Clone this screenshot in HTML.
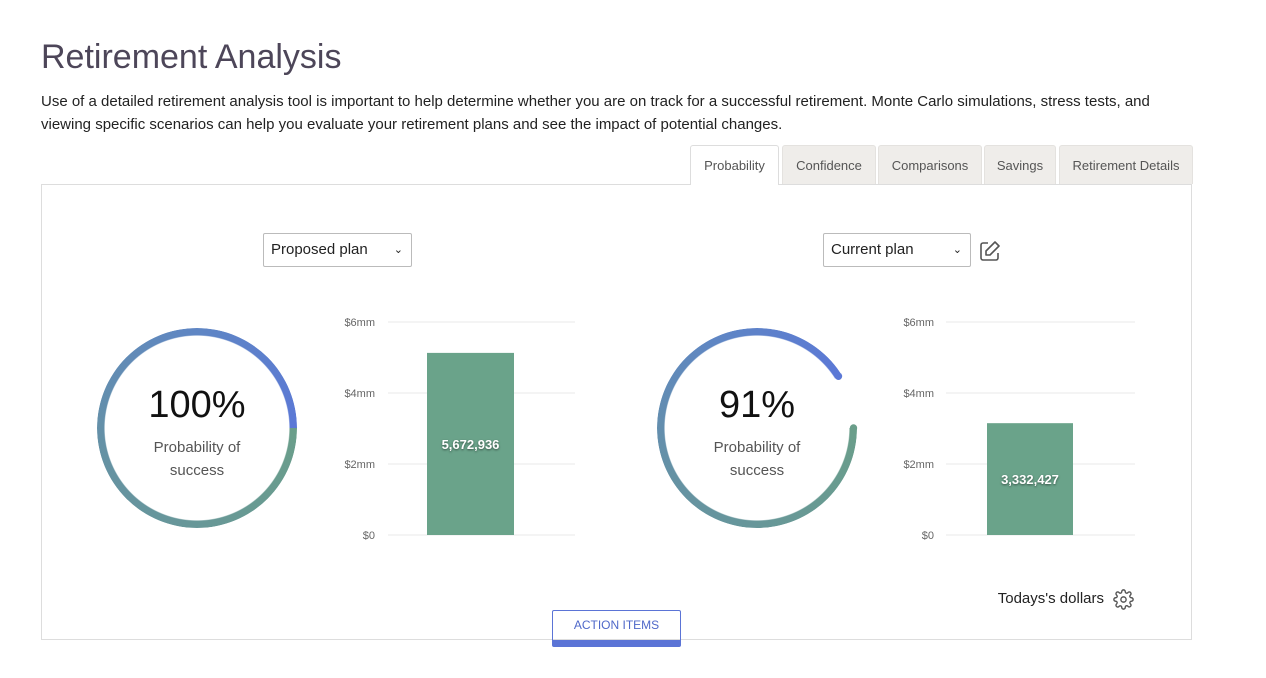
<!DOCTYPE html>
<html><head><meta charset="utf-8"><style>
body{margin:0;width:1266px;height:678px;background:#fff;font-family:"Liberation Sans",sans-serif;position:relative;overflow:hidden;color:#222}
.abs{position:absolute}
h1{position:absolute;left:41px;top:38px;margin:0;font-weight:400;font-size:34px;color:#4d4659}
.desc{left:41px;top:90px;width:1120px;font-size:15px;line-height:23px;color:#222}
.tab{position:absolute;top:145px;height:39px;background:#efedea;border:1px solid #e4e2df;border-bottom:none;border-radius:3px 3px 0 0;box-sizing:border-box;font-size:13px;color:#555;text-align:center;line-height:40px}
.tab.on{background:#fff;border-color:#ddd;height:40px}
.panel{left:41px;top:184px;width:1151px;height:456px;border:1px solid #ddd;box-sizing:border-box}
.sel{position:absolute;height:34px;border:1px solid #bbb;border-radius:2px;box-sizing:border-box;font-size:15px;line-height:32px;padding-left:7px;color:#222}
.sel span{position:absolute;right:8px;top:0;font-size:11px}
.ring{position:absolute;width:200px;height:200px;border-radius:50%;-webkit-mask:radial-gradient(circle,transparent 92px,#000 93px,#000 100px,transparent 101px);mask:radial-gradient(circle,transparent 92px,#000 93px,#000 100px,transparent 101px)}
.pct{position:absolute;width:200px;text-align:center;font-size:38px;color:#111}
.lab{position:absolute;width:200px;text-align:center;font-size:15px;line-height:23px;color:#555}
</style></head><body>
<h1>Retirement Analysis</h1>
<div class="abs desc">Use of a detailed retirement analysis tool is important to help determine whether you are on track for a successful retirement. Monte Carlo simulations, stress tests, and viewing specific scenarios can help you evaluate your retirement plans and see the impact of potential changes.</div>
<div class="abs panel"></div>
<div class="tab on" style="left:690px;width:89px">Probability</div>
<div class="tab" style="left:782px;width:94px">Confidence</div>
<div class="tab" style="left:878px;width:104px">Comparisons</div>
<div class="tab" style="left:984px;width:72px">Savings</div>
<div class="tab" style="left:1059px;width:134px">Retirement Details</div>
<div class="sel" style="left:263px;top:233px;width:149px">Proposed plan<span>&#8964;</span></div>
<div class="sel" style="left:823px;top:233px;width:148px">Current plan<span>&#8964;</span></div>
<svg class="abs" style="left:979px;top:240px" width="22" height="22" viewBox="0 0 22 22"><path d="M9 3H4a2 2 0 0 0-2 2v13a2 2 0 0 0 2 2h13a2 2 0 0 0 2-2v-5" fill="none" stroke="#555" stroke-width="1.6"/><path d="M16 2l4 4-9 9H7v-4z" fill="none" stroke="#555" stroke-width="1.6" stroke-linejoin="round"/></svg>

<div class="ring" id="ring1" style="left:97px;top:328px"></div>
<div class="pct" style="left:97px;top:384px">100%</div>
<div class="lab" style="left:97px;top:436px">Probability of<br>success</div>
<div class="ring" id="ring2" style="left:657px;top:328px"></div>
<div class="pct" style="left:657px;top:384px">91%</div>
<div class="lab" style="left:657px;top:436px">Probability of<br>success</div>

<svg class="abs" id="bars" style="left:0;top:0" width="1266" height="678"></svg>

<div class="abs" style="left:960px;top:590px;width:144px;text-align:right;font-size:15px;color:#222">Todays's dollars</div>
<svg class="abs" style="left:1113px;top:589px" width="21" height="21" viewBox="0 0 24 24"><circle cx="12" cy="12" r="3" fill="none" stroke="#555" stroke-width="1.6"/><path d="M19.4 15a1.7 1.7 0 0 0 .3 1.8l.1.1a2 2 0 1 1-2.8 2.8l-.1-.1a1.7 1.7 0 0 0-2.9 1.2V21a2 2 0 1 1-4 0v-.1a1.7 1.7 0 0 0-2.9-1.200l-.1.1a2 2 0 1 1-2.8-2.8l.1-.1A1.7 1.7 0 0 0 3.1 14H3a2 2 0 1 1 0-4h.1a1.7 1.7 0 0 0 1.2-2.9l-.1-.1a2 2 0 1 1 2.8-2.8l.1.1A1.7 1.7 0 0 0 10 3.1V3a2 2 0 1 1 4 0v.1a1.7 1.7 0 0 0 2.9 1.2l.1-.1a2 2 0 1 1 2.8 2.8l-.1.1A1.7 1.7 0 0 0 20.9 10H21a2 2 0 1 1 0 4h-.1a1.7 1.7 0 0 0-1.5 1z" fill="none" stroke="#555" stroke-width="1.6"/></svg>
<div class="abs" style="left:552px;top:610px;width:129px;height:37px;border:1px solid #5b74d6;border-bottom:7px solid #5b74d6;border-radius:2px;box-sizing:border-box;text-align:center;font-size:12px;line-height:28px;color:#4f68c9">ACTION ITEMS</div>

<script>
const probabilities=[100,91];
const categories=["Proposed plan","Current plan"];
const barValues=[5.13,3.15];
const barLabels=["5,672,936","3,332,427"];
const tickValues=[0,2,4,6];
const tickLabels=["$0","$2mm","$4mm","$6mm"];

const G="#6a9e8a",B="#5b78d6";
const rings=[document.getElementById('ring1'),document.getElementById('ring2')];
probabilities.forEach((p,i)=>{
  const deg=p/100*360;
  rings[i].style.background=`conic-gradient(from 90deg, ${G} 0deg, #6592a3 ${deg*0.45}deg, #5f86c4 ${deg*0.75}deg, ${B} ${deg}deg, transparent ${deg}deg)`;
});
const svg=document.getElementById('bars');
const NS="http://www.w3.org/2000/svg";
function mk(t,a){const e=document.createElementNS(NS,t);for(const k in a)e.setAttribute(k,a[k]);svg.appendChild(e);return e;}
probabilities.forEach((p,i)=>{
  if(p>=100)return;
  const cx=197+560*i,cy=428,r=96.5;
  [[0,G],[p/100*360,B]].forEach(([a,c])=>{
    const rad=(a)*Math.PI/180;
    const e=mk('circle',{cx:cx+r*Math.cos(rad),cy:cy+r*Math.sin(rad),r:3.7,fill:c});
    
    
  });
});
const y0=535,pxPer=213/6;
const y=v=>y0-v*pxPer;
const charts=[{l:388,r:575,bx:427,bw:87,lx:375},{l:946,r:1135,bx:987,bw:86,lx:934}];
charts.forEach((c,i)=>{
  tickValues.forEach((t,j)=>{
    const ln=mk('line',{x1:c.l,x2:c.r,y1:y(t),y2:y(t),stroke:'#e8e8e8','stroke-width':1});
    
    
    const tx=mk('text',{x:c.lx,y:y(t)+4,'text-anchor':'end','font-size':11,fill:'#666','font-family':'Liberation Sans, sans-serif'});
    tx.textContent=tickLabels[j];
    
    
  });
  const b=mk('rect',{x:c.bx,y:y(barValues[i]),width:c.bw,height:y0-y(barValues[i]),fill:'#6aa38a'});
  
  
  const lt=mk('text',{x:c.bx+c.bw/2,y:(y(barValues[i])+y0)/2+5,'text-anchor':'middle','font-size':13,'font-weight':'bold',fill:'#fff','font-family':'Liberation Sans, sans-serif',style:'text-shadow:0 1px 2px rgba(0,0,0,.5)'});
  lt.textContent=barLabels[i];
  
  
});
</script>
</body></html>
